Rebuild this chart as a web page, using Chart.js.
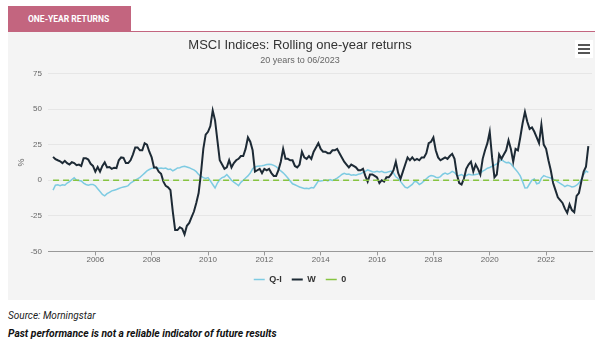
<!DOCTYPE html>
<html>
<head>
<meta charset="utf-8">
<title>One-year returns</title>
<script src="https://cdn.jsdelivr.net/npm/chart.js@4.4.0/dist/chart.umd.min.js"></script>
<style>
    html, body { margin: 0; padding: 0; background: #fff; width: 600px; height: 347px; overflow: hidden; }
    #tab {
        position: absolute; left: 8px; top: 6px; width: 123px; height: 26px;
        background: #c3657f; color: #fff; box-sizing: border-box; padding-left: 20px;
        font: bold 8.5px Roboto, sans-serif; line-height: 26px;
    }
    #rule { position: absolute; left: 8px; top: 31px; width: 587px; height: 1px; background: #c3657f; }
    #panel { position: absolute; left: 8px; top: 32px; width: 587px; height: 268px; background: #f4f4f4; }
    #menu { position: absolute; left: 567px; top: 8px; width: 18px; height: 18px; background: #fff; }
    #menu span { position: absolute; left: 3px; width: 12px; height: 2px; background: #555; }
    .note { position: absolute; left: 8px; font: italic 10px "Liberation Sans Narrow", Roboto, sans-serif; color: #222; }
</style>
</head>
<body>
<div id="tab">ONE-YEAR RETURNS</div>
<div id="rule"></div>
<div id="panel">
    <canvas id="chartReturns" width="587" height="268"></canvas>
    <div id="menu"><span style="top:4px"></span><span style="top:8px"></span><span style="top:12px"></span></div>
</div>
<div class="note" style="top:310px">Source: Morningstar</div>
<div class="note" style="top:327px; font-size:10.3px; font-weight:bold; color:#111">Past performance is not a reliable indicator of future results</div>

<script>
    // month-end dates, 06/2004 .. 06/2023
    const firstYear = 2004, firstMonth = 6, monthCount = 229;
    const yearTicks = [2006, 2008, 2010, 2012, 2014, 2016, 2018, 2020, 2022];

    const qiReturns = [
        -7, -3.5, -3.2, -3.8, -3.2, -3.5, -2, -1, 0.5, 1.7,
        0, -0.2, -0.5, -2, -3, -3.5, -3, -3, -4, -6,
        -8, -10, -11, -9.5, -8.5, -7.5, -7, -6.5, -5.8, -5.2,
        -4.8, -4.5, -3.8, -2, -1, 0, 1, 2, 3.5, 5,
        6.5, 7.5, 8.3, 8.6, 9, 8.2, 8.5, 8.2, 8.5, 7.6,
        7.8, 6.6, 7.5, 8.6, 8.8, 9.5, 9.8, 9.3, 8.8, 8,
        7.2, 6, 4, 2.8, 1.8, 1.2, 1.8, -0.5, -3, -5.5,
        -2, 0.5, 1.8, 2.4, 4, 2, 0, -1.4, -2.5, -3.8,
        -1.5, 0, 1.5, 3, 5, 8, 9.3, 9.8, 10, 10.2,
        10.5, 11, 11.2, 11, 10.4, 9.5, 8, 6.5, 5.2, 3.5,
        1.5, -0.5, -2.5, -3.2, -4, -4.8, -5.3, -5.8, -5.6, -6,
        -5.2, -5.5, -3, -0.5, -0.5, -0.2, 0.2, -0.5, 0.5, -0.2,
        0.5, 1.5, 2.6, 4, 4.8, 4.2, 4.3, 3.5, 3.8, 3.5,
        4.2, 4.5, 5.5, 6.2, 7.2, 6.6, 6, 5.7, 6.2, 5.8,
        6.2, 5.4, 5.4, 6, 6.4, 5, 2.4, 1.2, -0.8, -3,
        -5, -5.4, -4.2, -3, -0.8, -1.2, -3, -2, -0.5, 1,
        2.5, 3.3, 3, 2.1, 1.8, 2.5, 4.2, 5, 4.3, 5,
        6.2, 5.4, 3.5, 3.3, 4, 2.8, 3.3, 4.2, 3.8, 3.6,
        4, 4.4, 5, 6.4, 7.2, 8.4, 8.9, 9.8, 10.6, 11.5,
        13, 14.5, 13.2, 12.3, 12.5, 11.5, 9.5, 7.5, 5.5, 3,
        -1, -5.5, -5.3, -2.5, 0, 0.8, -2.5, -2, 1.5, 3.2,
        2.5, 2, 1.5, 0.5, 0, -1.2, -2.2, -3.2, -4.5, -3.6,
        -4, -4.8, -4.5, -3.5, -2, 0.5, 4, 6.4, 5.5
    ];

    const wReturns = [
        16.4, 14.8, 14, 13.3, 12, 13.6, 12, 11, 12.6, 12,
        10.5, 11, 10, 15.5, 15.5, 14.5, 11.5, 10, 6, 9.3,
        6, 10, 12.5, 9, 9.3, 8, 8.8, 8.5, 14, 16,
        15.7, 12, 12, 14, 18, 23, 23, 21, 21, 26,
        25, 20, 16, 9, 9, 6, 4.5, -1, -4, -5,
        -7, -22, -35, -35, -33, -34, -38, -32, -30, -26,
        -22, -16, -9, 5, 22, 32, 34, 38, 49, 42,
        28, 14, 11, 8, 9, 14, 9, 12, 14, 15,
        17, 17, 22, 30, 27, 21, 6, 7, 8, 5,
        8, 7, 8, 5, 3, 3, 7, 13, 22, 15,
        15, 14, 14, 10, 9, 11, 20, 16, 15, 17,
        15, 20, 23, 26, 22, 20, 20, 19, 19, 21,
        21, 22, 19, 16, 13, 11, 9, 11, 10, 9,
        7, 7, 8, 3, -1, 4, 4, 3, 2, -2,
        0, -1, 2, 2, 4, 7, 13, 5, 1, 6,
        11, 16, 14, 16, 14, 15, 14, 16, 16, 19,
        26, 27, 30, 21, 16, 14, 15, 16, 15, 17,
        18.5, 15, 4, -2, -3, 1, 8, 11, 13, 6,
        11, 8, 4, 15, 21, 26, 34, 16, 2, 4,
        18, 15, 18, 21, 28, 22, 13, 22, 21, 30,
        40, 48, 41, 36, 37, 34, 30, 26, 39, 25,
        22, 14, 7, -2, -7, -12, -14, -16, -20, -23,
        -17, -21, -22.5, -11, -9, -1, 6, 9.5, 24
    ];

    const zeroLine = qiReturns.map(() => 0);

    // decimal year of each month-end
    const monthDates = [];
    for (let i = 0; i < monthCount; i++) {
        let m = firstMonth + i;
        monthDates.push(firstYear + Math.floor((m - 1) / 12) + (((m - 1) % 12) + 1) / 12);
    }

    function toPoints(values) {
        return values.map((v, i) => ({ x: monthDates[i], y: v }));
    }

    const ctx = document.getElementById('chartReturns').getContext('2d');
    new Chart(ctx, {
        type: 'line',
        data: {
            datasets: [
                { label: 'Q-I', data: toPoints(qiReturns), borderColor: '#7ecbe2', backgroundColor: '#7ecbe2', borderWidth: 1.5, order: 3 },
                { label: 'W', data: toPoints(wReturns), borderColor: '#1d2a35', backgroundColor: '#1d2a35', borderWidth: 2, order: 2 },
                { label: '0', data: toPoints(zeroLine), borderColor: '#86c440', backgroundColor: '#86c440', borderWidth: 1.5, borderDash: [6, 4], order: 1 }
            ]
        },
        options: {
            responsive: false,
            animation: false,
            elements: { point: { radius: 0 }, line: { tension: 0 } },
            layout: { padding: { top: 0, right: 3, bottom: 6, left: 0 } },
            plugins: {
                title: {
                    display: true, text: 'MSCI Indices: Rolling one-year returns', color: '#333',
                    font: { family: 'Liberation Sans', size: 13, weight: 'normal' }, padding: { top: 6, bottom: 2 }
                },
                subtitle: {
                    display: true, text: '20 years to 06/2023', color: '#666',
                    font: { family: 'Liberation Sans', size: 9 }, padding: { bottom: 7 }
                },
                legend: {
                    position: 'bottom',
                    labels: {
                        boxWidth: 11, boxHeight: 0, color: '#333', padding: 10,
                        font: { family: 'Liberation Sans', size: 9, weight: 'bold' },
                        sort: (a, b) => a.datasetIndex - b.datasetIndex
                    }
                },
                tooltip: { enabled: false }
            },
            scales: {
                x: {
                    type: 'linear', min: 2004.32, max: 2023.63,
                    afterBuildTicks: scale => { scale.ticks = yearTicks.map(v => ({ value: v })); },
                    grid: { drawOnChartArea: false, tickLength: 4, tickColor: '#999' },
                    border: { color: '#999', width: 1 },
                    ticks: { color: '#666', padding: 0, font: { family: 'Liberation Sans', size: 8 }, callback: v => String(v) }
                },
                y: {
                    min: -50, max: 75,
                    ticks: { stepSize: 25, color: '#666', padding: 6, font: { family: 'Liberation Sans', size: 8 } },
                    grid: { color: '#e6e6e6', drawTicks: false },
                    border: { display: false },
                    title: { display: true, text: '%', color: '#666', padding: { top: 8, bottom: 0 }, font: { family: 'Liberation Sans', size: 9 } },
                    afterFit: scale => { scale.width = 40; }
                }
            }
        }
    });
</script>
</body>
</html>
